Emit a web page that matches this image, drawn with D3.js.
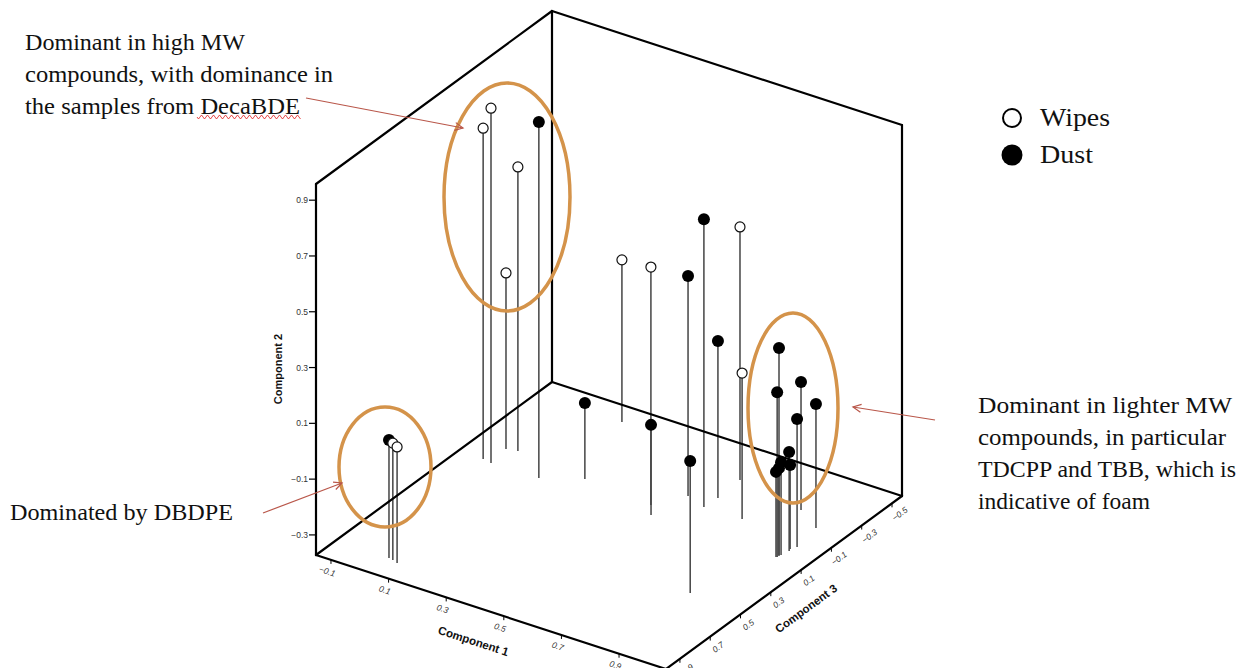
<!DOCTYPE html>
<html>
<head>
<meta charset="utf-8">
<script src="https://cdn.jsdelivr.net/npm/d3@7"></script>
<style>
  html, body { margin: 0; padding: 0; background: #fff; }
  svg { display: block; }
</style>
</head>
<body>
<svg id="chart" width="1236" height="668"></svg>
<script>
// ---------------- DATA ----------------
const sampleType = ["Dust","Wipes","Wipes",
  "Wipes","Wipes","Dust","Wipes","Wipes",
  "Wipes","Wipes","Dust","Dust","Wipes","Dust","Wipes","Dust","Dust","Dust",
  "Dust","Dust","Dust","Dust","Dust","Dust","Dust","Dust","Dust","Dust"];
const comp1 = [0.033, 0.049, 0.069,
  -0.033, -0.065, 0.131, -0.008, -0.043,
  0.147, 0.489, 0.549, 0.623, 0.621, 0.627, 0.754, 0.245, 0.522, 0.872,
  0.961, 0.866, 0.963, 0.961, 0.978, 0.972, 0.966, 0.968, 0.960, 0.964];
const comp2 = [0.051, 0.047, 0.044,
  0.900, 0.814, 0.904, 0.646, 0.259,
  0.209, 0.481, 0.417, 0.660, 0.535, 0.191, 0.151, -0.100, -0.049, 0.101,
  0.370, 0.087, 0.219, 0.072, 0.087, -0.017, -0.039, -0.071, -0.067, -0.057];
const comp3 = [0.862, 0.867, 0.877,
  0.063, 0.054, 0.059, -0.067, -0.055,
  -0.459, 0.000, -0.131, -0.095, -0.337, -0.180, -0.098, -0.028, 0.062, 0.469,
  0.052, -0.274, 0.068, -0.192, -0.035, 0.006, 0.048, -0.008, 0.070, 0.058];

const comp1Ticks = [-0.1, 0.1, 0.3, 0.5, 0.7, 0.9];
const comp2Ticks = [-0.3, -0.1, 0.1, 0.3, 0.5, 0.7, 0.9];
const comp3Ticks = [0.9, 0.7, 0.5, 0.3, 0.1, -0.1, -0.3, -0.5];
const comp1Domain = [-0.152, 1.063];
const comp2Domain = [-0.372, 0.958];
const comp3Domain = [0.992, -0.566];

const legendItems = ["Wipes", "Dust"];
const noteHigh = ["Dominant in high MW", "compounds, with dominance in", "the samples from DecaBDE"];
const noteDBDPE = ["Dominated by DBDPE"];
const noteLight = ["Dominant in lighter MW", "compounds, in particular", "TDCPP and TBB, which is", "indicative of foam"];

// ---------------- LAYOUT ----------------
const svg = d3.select("#chart");
const L = {x: 316, y: 555};           // front-left floor corner
const U = {x: 350, y: 114};           // comp1 direction (full span)
const V = {x: 236, y: -173};          // comp3 direction (front->back)
const H = 371;                        // box height

const s1 = d3.scaleLinear().domain(comp1Domain).range([0, 1]);
const s3 = d3.scaleLinear().domain(comp3Domain).range([0, 1]);
const s2 = d3.scaleLinear().domain(comp2Domain).range([0, H]);

function floorPt(c1, c3) {
  const u = s1(c1), v = s3(c3);
  return [L.x + u * U.x + v * V.x, L.y + u * U.y + v * V.y];
}
function proj(c1, c2, c3) {
  const f = floorPt(c1, c3);
  return [f[0], f[1] - s2(c2)];
}

const c1min = comp1Domain[0], c1max = comp1Domain[1];
const c3front = comp3Domain[0], c3back = comp3Domain[1];
const c2min = comp2Domain[0], c2max = comp2Domain[1];

const boxColor = "#000";
const gBox = svg.append("g");
const gLines = svg.append("g");
const gFloor = svg.append("g");
const gPts = svg.append("g");
const gAx = svg.append("g");
const gAnn = svg.append("g");

function seg(g, a, b, w, col) {
  g.append("line").attr("x1", a[0]).attr("y1", a[1]).attr("x2", b[0]).attr("y2", b[1])
    .attr("stroke", col || boxColor).attr("stroke-width", w || 2).attr("stroke-linecap", "round");
}

// Walls (back) edges
const Lb = proj(c1min, c2min, c3front), Lt = proj(c1min, c2max, c3front);
const Bb = proj(c1min, c2min, c3back), Bt = proj(c1min, c2max, c3back);
const Rb = proj(c1max, c2min, c3back), Rt = proj(c1max, c2max, c3back);
const Fb = proj(c1max, c2min, c3front);
seg(gBox, Lb, Lt, 2.2);
seg(gBox, Lt, Bt, 2.2);
seg(gBox, Bt, Bb, 2.2);
seg(gBox, Bt, Rt, 2.2);
seg(gBox, Rt, Rb, 2.2);

// Data
const pts = comp1.map((c, i) => ({c1: c, c2: comp2[i], c3: comp3[i], type: sampleType[i]}));
pts.sort((a, b) => s3(b.c3) - s3(a.c3));

// Drop lines
pts.forEach(p => {
  const top = proj(p.c1, p.c2, p.c3), bot = floorPt(p.c1, p.c3);
  gLines.append("line").attr("x1", top[0]).attr("y1", top[1]).attr("x2", bot[0]).attr("y2", bot[1])
    .attr("stroke", "#444").attr("stroke-width", 1.5);
});

// Floor edges
seg(gFloor, Lb, Bb, 2.2);
seg(gFloor, Bb, Rb, 2.2);
seg(gFloor, Lb, Fb, 2.2);
seg(gFloor, Fb, Rb, 2.2);

// Markers
pts.forEach(p => {
  const t = proj(p.c1, p.c2, p.c3);
  if (p.type === "Dust") {
    gPts.append("circle").attr("cx", t[0]).attr("cy", t[1]).attr("r", 6).attr("fill", "#000");
  } else {
    gPts.append("circle").attr("cx", t[0]).attr("cy", t[1]).attr("r", 5)
      .attr("fill", "#fff").attr("stroke", "#111").attr("stroke-width", 1.2);
  }
});

// Comp2 axis ticks
comp2Ticks.forEach(v => {
  const p = proj(c1min, v, c3front);
  gAx.append("line").attr("x1", p[0] - 7).attr("x2", p[0]).attr("y1", p[1]).attr("y2", p[1])
    .attr("stroke", "#000").attr("stroke-width", 1.2);
  gAx.append("text").attr("x", p[0] - 8).attr("y", p[1] + 3).attr("text-anchor", "end")
    .attr("font-family", "Liberation Sans, Arial, sans-serif").attr("font-size", 8.5).attr("fill", "#333")
    .text(d3.format(".1f")(v));
});
gAx.append("text").attr("transform", "translate(282,369) rotate(-90)").attr("text-anchor", "middle")
  .attr("font-family", "Liberation Sans, Arial, sans-serif").attr("font-weight", "bold").attr("font-size", 11)
  .attr("fill", "#111").text("Component 2");

// Comp1 axis ticks
const ang1 = Math.atan2(U.y, U.x) * 180 / Math.PI;
const n1 = [-U.y / Math.hypot(U.x, U.y), U.x / Math.hypot(U.x, U.y)];
comp1Ticks.forEach(v => {
  const p = floorPt(v, c3front);
  gAx.append("line").attr("x1", p[0]).attr("x2", p[0]).attr("y1", p[1]).attr("y2", p[1] + 4)
    .attr("stroke", "#000").attr("stroke-width", 1);
  const lx = p[0] + n1[0] * 12, ly = p[1] + n1[1] * 12;
  gAx.append("text").attr("transform", `translate(${lx},${ly}) rotate(${ang1})`)
    .attr("text-anchor", "middle").attr("dy", "0.35em")
    .attr("font-family", "Liberation Sans, Arial, sans-serif").attr("font-style", "italic")
    .attr("font-size", 8.5).attr("fill", "#333").text(d3.format(".1f")(v));
});
{
  const p = floorPt(0.43, c3front);
  const lx = p[0] + n1[0] * 33, ly = p[1] + n1[1] * 33;
  gAx.append("text").attr("transform", `translate(${lx},${ly}) rotate(${ang1})`)
    .attr("text-anchor", "middle").attr("dy", "0.35em")
    .attr("font-family", "Liberation Sans, Arial, sans-serif").attr("font-weight", "bold")
    .attr("font-size", 11.5).attr("fill", "#111").text("Component 1");
}

// Comp3 axis ticks
const D3v = [Rb[0] - Fb[0], Rb[1] - Fb[1]];
const ang3 = Math.atan2(D3v[1], D3v[0]) * 180 / Math.PI;
const len3 = Math.hypot(D3v[0], D3v[1]);
const n3 = [-D3v[1] / len3, D3v[0] / len3];
comp3Ticks.forEach(v => {
  const p = floorPt(c1max, v);
  gAx.append("line").attr("x1", p[0]).attr("x2", p[0]).attr("y1", p[1]).attr("y2", p[1] + 4)
    .attr("stroke", "#000").attr("stroke-width", 1);
  const lx = p[0] + n3[0] * 13, ly = p[1] + n3[1] * 13;
  gAx.append("text").attr("transform", `translate(${lx},${ly}) rotate(${ang3})`)
    .attr("text-anchor", "middle").attr("dy", "0.35em")
    .attr("font-family", "Liberation Sans, Arial, sans-serif").attr("font-style", "italic")
    .attr("font-size", 8.5).attr("fill", "#333").text(d3.format(".1f")(v));
});
{
  const p = floorPt(c1max, 0.2);
  const lx = p[0] + n3[0] * 34, ly = p[1] + n3[1] * 34;
  gAx.append("text").attr("transform", `translate(${lx},${ly}) rotate(${ang3})`)
    .attr("text-anchor", "middle").attr("dy", "0.35em")
    .attr("font-family", "Liberation Sans, Arial, sans-serif").attr("font-weight", "bold")
    .attr("font-size", 11.5).attr("fill", "#111").text("Component 3");
}

// ---------------- ANNOTATIONS ----------------
const ellColor = "#d4934a";
[[507, 197, 63, 114], [385, 467, 46, 60], [793, 408, 45, 95]].forEach(e => {
  gAnn.append("ellipse").attr("cx", e[0]).attr("cy", e[1]).attr("rx", e[2]).attr("ry", e[3])
    .attr("fill", "none").attr("stroke", ellColor).attr("stroke-width", 3.5);
});

const arrowColor = "#b9574a";
function arrow(x1, y1, x2, y2) {
  gAnn.append("line").attr("x1", x1).attr("y1", y1).attr("x2", x2).attr("y2", y2)
    .attr("stroke", arrowColor).attr("stroke-width", 1.2);
  const a = Math.atan2(y2 - y1, x2 - x1), h = 9, w = 0.45;
  const p1 = [x2 - h * Math.cos(a - w), y2 - h * Math.sin(a - w)];
  const p2 = [x2 - h * Math.cos(a + w), y2 - h * Math.sin(a + w)];
  gAnn.append("path").attr("d", `M${p1}L${x2},${y2}L${p2}`).attr("fill", "none")
    .attr("stroke", arrowColor).attr("stroke-width", 1.2);
}
arrow(306, 98, 463, 128);
arrow(263, 513, 342, 483);
arrow(935, 420, 853, 407);

const serif = "Liberation Serif, Times New Roman, serif";
function block(lines, x, y0, dy, widths) {
  lines.forEach((t, i) => {
    gAnn.append("text").attr("x", x).attr("y", y0 + i * dy)
      .attr("font-family", serif).attr("font-size", 23).attr("fill", "#111")
      .attr("textLength", widths[i]).attr("lengthAdjust", "spacingAndGlyphs").text(t);
  });
}
block(noteHigh, 25, 50, 32, [220, 308, 275]);
block(noteDBDPE, 10, 520, 32, [223]);
block(noteLight, 978, 413, 32, [254, 248, 258, 172]);

// spell-check squiggle under DecaBDE
{
  let d = "M197,117";
  for (let x = 197; x < 300; x += 3) d += `L${x + 1.5},${(x - 197) % 6 === 0 ? 119 : 115}`;
  gAnn.append("path").attr("d", d).attr("fill", "none").attr("stroke", "#e02020").attr("stroke-width", 0.8);
}

// Legend
const lg = gAnn.append("g");
const legendWidths = [70, 53];
legendItems.forEach((t, i) => {
  const y = 118 + i * 37;
  if (t === "Wipes") {
    lg.append("circle").attr("cx", 1012).attr("cy", y).attr("r", 9).attr("fill", "#fff")
      .attr("stroke", "#000").attr("stroke-width", 2);
  } else {
    lg.append("circle").attr("cx", 1012).attr("cy", y).attr("r", 10.5).attr("fill", "#000");
  }
  lg.append("text").attr("x", 1040).attr("y", y + 8).attr("font-family", serif).attr("font-size", 25)
    .attr("fill", "#111").attr("textLength", legendWidths[i]).attr("lengthAdjust", "spacingAndGlyphs").text(t);
});
</script>
</body>
</html>
